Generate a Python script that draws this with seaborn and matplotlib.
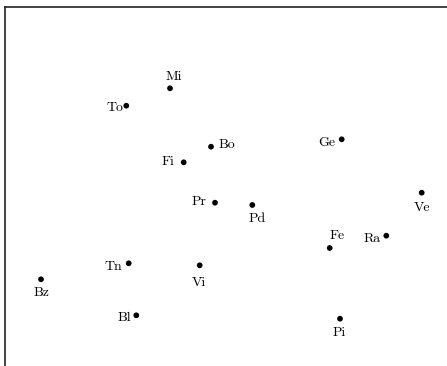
import matplotlib
matplotlib.use("Agg")
import matplotlib.pyplot as plt
import seaborn as sns
import pandas as pd

# point labels and their map coordinates (arbitrary units)
labels = ["Mi", "To", "Bo", "Ge", "Fi", "Ve", "Pr", "Pd",
          "Fe", "Ra", "Tn", "Vi", "Bz", "Bl", "Pi"]
x_vals = [165.0, 121.3, 206.0, 336.7, 178.7, 416.7, 210.0, 247.3,
          324.7, 381.3, 123.7, 194.7, 36.0, 131.3, 335.0]
y_vals = [277.7, 260.3, 219.3, 226.7, 203.7, 173.3, 163.3, 161.0,
          118.0, 130.3, 102.7, 100.7, 86.7, 50.7, 47.3]

# where each label sits relative to its dot, in pixels (dx right, dy down)
label_offsets = {
    "Mi": (4, -11.6), "To": (-11.3, 2.3), "Bo": (15.7, -1.7),
    "Ge": (-14.7, 3.4), "Fi": (-16, -0.6), "Ve": (0, 15),
    "Pr": (-15.7, -0.4), "Pd": (4.4, 14.3), "Fe": (7.3, -12.3),
    "Ra": (-14.6, 3), "Tn": (-15.7, 3.4), "Vi": (-0.4, 17.7),
    "Bz": (0.3, 13.4), "Bl": (-12, 3), "Pi": (-0.7, 14.6),
}

df = pd.DataFrame({"label": labels, "x": x_vals, "y": y_vals})

sns.set_style("white")
plt.rcParams["font.family"] = ["cmr10", "DejaVu Serif"]

fig = plt.figure(figsize=(4.47, 3.66), dpi=100)
ax = fig.add_axes([5 / 447, 0, 442 / 447, 359 / 366])

sns.scatterplot(data=df, x="x", y="y", color="black", s=17,
                edgecolor="none", ax=ax, legend=False)

px2pt = 72 / 100
for lab, xv, yv in zip(labels, x_vals, y_vals):
    dx, dy = label_offsets[lab]
    ax.annotate(lab, (xv, yv), xytext=(dx * px2pt, -dy * px2pt),
                textcoords="offset points", ha="center", va="center",
                fontsize=10, color="black")

ax.set_xlim(0, 442)
ax.set_ylim(0, 359)
ax.set_xticks([])
ax.set_yticks([])
ax.set_xlabel("")
ax.set_ylabel("")
for side in ["right", "bottom"]:
    ax.spines[side].set_visible(False)
for side in ["left", "top"]:
    ax.spines[side].set_color("#222222")
    ax.spines[side].set_linewidth(1.2)

fig.savefig("out.png", dpi=100)
